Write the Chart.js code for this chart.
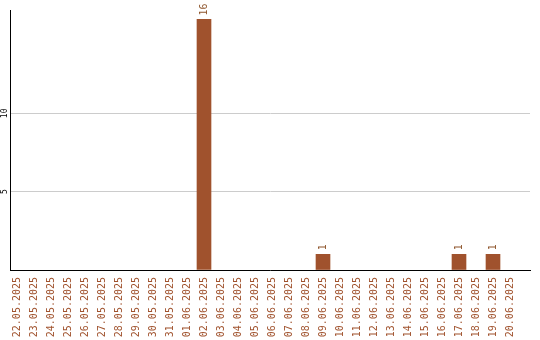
<!DOCTYPE html>
<html>
<head>
<meta charset="utf-8">
<script src="https://cdn.jsdelivr.net/npm/chart.js@4"></script>
<style>
  html, body { margin: 0; padding: 0; background: #fff; }
  #wrap { width: 540px; height: 340px; position: relative; }
</style>
</head>
<body>
<div id="wrap"><canvas id="c"></canvas></div>
<script>
// Daily counts, 22.05.2025 – 20.06.2025
const categories = [
  '22.05.2025','23.05.2025','24.05.2025','25.05.2025','26.05.2025',
  '27.05.2025','28.05.2025','29.05.2025','30.05.2025','31.05.2025',
  '01.06.2025','02.06.2025','03.06.2025','04.06.2025','05.06.2025',
  '06.06.2025','07.06.2025','08.06.2025','09.06.2025','10.06.2025',
  '11.06.2025','12.06.2025','13.06.2025','14.06.2025','15.06.2025',
  '16.06.2025','17.06.2025','18.06.2025','19.06.2025','20.06.2025'
];
const counts = [
  0, 0, 0, 0, 0, 0, 0, 0, 0, 0,
  0, 16, 0, 0, 0, 0, 0, 0, 1, 0,
  0, 0, 0, 0, 0, 0, 1, 0, 1, 0
];
const yTickValues = [0, 5, 10];

const BAR = '#A0522D';
const MONO = '"DejaVu Sans Mono", "Liberation Mono", monospace';

// value labels written vertically above each non-zero bar
const barValueLabels = {
  id: 'barValueLabels',
  afterDatasetsDraw(chart) {
    const ctx = chart.ctx;
    const meta = chart.getDatasetMeta(0);
    ctx.save();
    ctx.font = '10px ' + MONO;
    ctx.fillStyle = '#8E552C';
    ctx.textAlign = 'left';
    ctx.textBaseline = 'middle';
    meta.data.forEach((bar, i) => {
      const v = counts[i];
      if (!v) return;
      ctx.save();
      ctx.translate(bar.x, bar.y - 4);
      ctx.rotate(-Math.PI / 2);
      ctx.fillText(String(v), 0, 0);
      ctx.restore();
    });
    ctx.restore();
  }
};

new Chart(document.getElementById('c'), {
  type: 'bar',
  data: {
    datasets: [{
      // empty days carry no bar at all
      data: counts.map((v, i) => ({ x: i, y: v > 0 ? v : null })),
      backgroundColor: BAR,
      borderWidth: 0,
      barThickness: 14
    }]
  },
  options: {
    responsive: true,
    maintainAspectRatio: false,
    animation: false,
    layout: { padding: { top: 10, right: 10, left: 0, bottom: 0 } },
    plugins: { legend: { display: false }, tooltip: { enabled: false } },
    scales: {
      x: {
        type: 'linear',
        offset: false,
        min: -7 / 17,
        max: -7 / 17 + 520 / 17,
        afterBuildTicks: axis => { axis.ticks = categories.map((_, i) => ({ value: i })); },
        afterFit: scale => {
          scale.height = 70;
          scale.paddingLeft = 0;
          scale.paddingRight = 0;
        },
        grid: { display: false, drawTicks: false, offset: false },
        border: { display: true, color: '#000', width: 1 },
        ticks: {
          autoSkip: false,
          minRotation: 90,
          maxRotation: 90,
          padding: 7,
          color: BAR,
          font: { family: MONO, size: 10 },
          callback: v => categories[v] ?? ''
        }
      },
      y: {
        min: 0,
        max: 16.6,
        afterBuildTicks: axis => { axis.ticks = yTickValues.map(v => ({ value: v })); },
        afterFit: scale => {
          scale.width = 10;
          scale.paddingTop = 0;
          scale.paddingBottom = 0;
        },
        grid: { color: '#cccccc', lineWidth: 1, drawTicks: false },
        border: { display: true, color: '#000', width: 1 },
        ticks: {
          minRotation: 90,
          maxRotation: 90,
          crossAlign: 'center',
          padding: 0,
          color: '#000',
          font: { family: MONO, size: 8 },
          callback: v => (v === 0 ? '' : String(v))
        }
      }
    }
  },
  plugins: [barValueLabels]
});
</script>
</body>
</html>
